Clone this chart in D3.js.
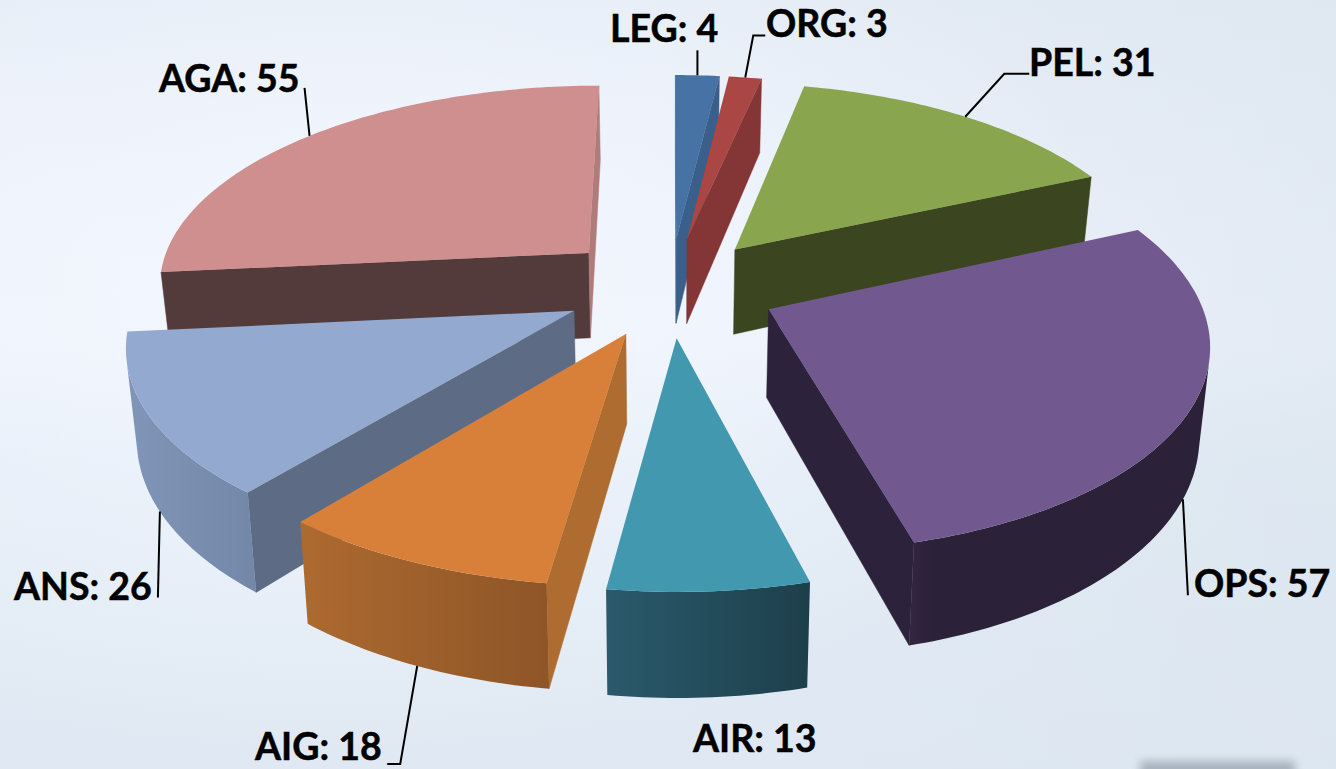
<!DOCTYPE html>
<html><head><meta charset="utf-8">
<script src="https://cdn.jsdelivr.net/npm/d3@7"></script>
<style>html,body{margin:0;padding:0;overflow:hidden;background:#e6edf6}svg{display:block}text{font-family:Lato,"Open Sans",sans-serif;font-weight:700;fill:#000;stroke:#000;stroke-width:.5px}</style>
</head><body><svg id="c" width="1336" height="769"></svg>
<script>
// --- data ---
const categories = ["LEG","ORG","PEL","OPS","AIR","AIG","ANS","AGA"];
const values = [4,3,31,57,13,18,26,55];
// --- colours ---
const topColors = ["#4672a6","#aa4644","#89a54e","#71588f","#4198af","#d88039","#93a9cf","#ce8f8e"];
const startWallColors = ["#3a5f8b","#843535","#3b451f","#2c223b","#255463","#ae6c31","#5e6b85","#533a3b"];
const endWallColors = ["#3a5f8b","#843535","#3b451f","#2c223b","#255463","#ae6c31","#5e6b85","#b07c7b"];
const arcFrom = ["#3a5f8b","#843535","#3b451f","#342540","#2a5a6c","#ad6a30","#8195b8","#533a3b"];
const arcTo = ["#3a5f8b","#843535","#3b451f","#2b2139","#1d3f4b","#8e5527","#7387a8","#533a3b"];
// --- labels layout (text origin), leader elbows as offsets from the slice's rim anchor ---
const labelPos = [[610,42],[766,37],[1029,76],[1194,597],[693,752],[255,760],[14,600],[159,92]];
const leaderElbows = [[[0,-25]],[[8,-42],[20,-42]],[[39,-43],[64,-43]],[[5,96]],[],[[-17,98],[-30,98]],[[-2,86]],[[-5,-48]]];
const leaderOnBase = [0,0,0,1,0,1,1,0];
// explosion distance of each slice from the pie's centre
const explodeBy = [105,105,105,107,105,105,105,110];

// --- projection model ---
const cx=670, R=425, D=2945, H=1390, horizon=-1103, thick=87, conv=0.02, leftStretch=1.02, rightStretch=1.006;
const svg=d3.select("#c");
const defs=svg.append("defs");

// background
const bg=defs.append("linearGradient").attr("id","bg").attr("x1",0).attr("y1",0).attr("x2",0).attr("y2",1);
[[0,"#e5ecf5"],[0.3,"#edf2fb"],[0.45,"#eef3fb"],[0.6,"#e3ecf5"],[1,"#e0e9f3"]].forEach(s=>bg.append("stop").attr("offset",s[0]).attr("stop-color",s[1]));
const glow=defs.append("radialGradient").attr("id","glow").attr("cx",0.25).attr("cy",0.38).attr("r",0.6);
glow.append("stop").attr("offset",0).attr("stop-color","#f3f7ff").attr("stop-opacity",.9);
glow.append("stop").attr("offset",1).attr("stop-color","#f3f7ff").attr("stop-opacity",0);
const shade=defs.append("linearGradient").attr("id","shade").attr("x1",0).attr("y1",0).attr("x2",1).attr("y2",0);
shade.append("stop").attr("offset",0.5).attr("stop-color","#dae4ee").attr("stop-opacity",0);
shade.append("stop").attr("offset",1).attr("stop-color","#dae4ee").attr("stop-opacity",.55);
defs.append("filter").attr("id","blur").attr("x","-20%").attr("y","-200%").attr("width","140%").attr("height","500%").append("feGaussianBlur").attr("stdDeviation",4);
svg.append("rect").attr("width",1336).attr("height",769).attr("fill","url(#bg)");
svg.append("rect").attr("width",1336).attr("height",769).attr("fill","url(#shade)");
svg.append("rect").attr("width",1336).attr("height",769).attr("fill","url(#glow)");
svg.append("rect").attr("x",1140).attr("y",761).attr("width",155).attr("height",24).attr("fill","#a3adb9").attr("opacity",.9).attr("filter","url(#blur)");

// --- geometry via d3.pie ---
const pie=d3.pie().sort(null).startAngle(0).endAngle(2*Math.PI);
const arcs=pie(values);
const line=d3.line().x(p=>p[0]).y(p=>p[1]);
const ARC_STEP=Math.PI/180;

function project(wx,wy,z){
  const s=D/(D+wy);
  return [cx+s*wx*(wx<0?leftStretch:rightStretch)*(1-conv*z), horizon+(H+thick*z)*s];
}
function rimPoint(a,theta,z){
  const m=(a.startAngle+a.endAngle)/2, e=explodeBy[a.index];
  return project(e*Math.sin(m)+R*Math.sin(theta),e*Math.cos(m)+R*Math.cos(theta),z);
}
function apexPoint(a,z){
  const m=(a.startAngle+a.endAngle)/2, e=explodeBy[a.index];
  return project(e*Math.sin(m),e*Math.cos(m),z);
}
const areaOf=q=>d3.polygonArea(q);

const order=d3.range(arcs.length).sort((i,j)=>apexPoint(arcs[i],0)[1]-apexPoint(arcs[j],0)[1]);
const gSlices=svg.append("g");

order.forEach(i=>{
  const a=arcs[i], g=gSlices.append("g").attr("class","slice").attr("data-cat",categories[i]);
  const n=Math.max(2,Math.ceil((a.endAngle-a.startAngle)/ARC_STEP));
  const thetas=d3.range(n+1).map(k=>a.startAngle+(a.endAngle-a.startAngle)*k/n);
  const walls=[];
  const wallQuad=(th)=>[apexPoint(a,0),rimPoint(a,th,0),rimPoint(a,th,1),apexPoint(a,1)];
  const qs=wallQuad(a.startAngle), qe=wallQuad(a.endAngle);
  if(areaOf(qs)>0) walls.push({q:qs,fill:startWallColors[i]});
  if(areaOf(qe)<0) walls.push({q:qe,fill:endWallColors[i]});
  walls.forEach(w=>g.append("path").attr("d",line(w.q)+"Z").attr("fill",w.fill).attr("stroke",w.fill).attr("stroke-width",.5));
  // outer wall
  const vis=[];
  for(let k=0;k<n;k++){
    const q=[rimPoint(a,thetas[k],0),rimPoint(a,thetas[k+1],0),rimPoint(a,thetas[k+1],1),rimPoint(a,thetas[k],1)];
    if(areaOf(q)>0) vis.push(k);
  }
  if(vis.length){
    const ths=thetas.slice(vis[0],vis[vis.length-1]+2);
    const poly=ths.map(t=>rimPoint(a,t,0)).concat(ths.slice().reverse().map(t=>rimPoint(a,t,1)));
    const xs=d3.extent(poly,p=>p[0]);
    const id="arc"+i;
    const gr=defs.append("linearGradient").attr("id",id).attr("gradientUnits","userSpaceOnUse")
      .attr("x1",xs[0]).attr("x2",xs[1]).attr("y1",0).attr("y2",0);
    gr.append("stop").attr("offset",0).attr("stop-color",arcFrom[i]);
    gr.append("stop").attr("offset",i===3?0.08:1).attr("stop-color",arcTo[i]);
    g.append("path").attr("d",line(poly)+"Z").attr("fill",`url(#${id})`);
  }
  // top face
  const top=[apexPoint(a,0)].concat(thetas.map(t=>rimPoint(a,t,0)));
  g.append("path").attr("d",line(top)+"Z").attr("fill",topColors[i]);
});

// --- leaders and labels ---
const gLabels=svg.append("g");
arcs.forEach((a,i)=>{
  if(leaderElbows[i].length){
    const m=(a.startAngle+a.endAngle)/2;
    const p0=rimPoint(a,m,leaderOnBase[i]);
    const pts=[p0].concat(leaderElbows[i].map(o=>[p0[0]+o[0],p0[1]+o[1]]));
    gLabels.append("path").attr("d",line(pts)).attr("fill","none").attr("stroke","#000").attr("stroke-width",2);
  }
  gLabels.append("text").attr("x",labelPos[i][0]).attr("y",labelPos[i][1]).attr("font-size",37.5).text(`${categories[i]}: ${values[i]}`);
});
</script></body></html>
